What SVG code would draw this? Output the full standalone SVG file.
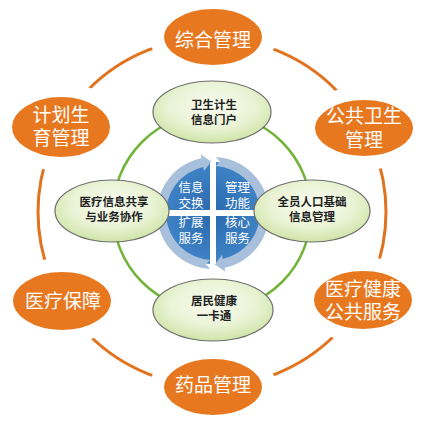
<svg xmlns="http://www.w3.org/2000/svg" width="424" height="424" viewBox="0 0 424 424">
<defs>
<radialGradient id="gG" cx="50%" cy="40%" r="60%">
<stop offset="0" stop-color="#F8FBEF"/>
<stop offset="0.6" stop-color="#EAF3D6"/>
<stop offset="1" stop-color="#CFE4A6"/>
</radialGradient>
<radialGradient id="bG" cx="50%" cy="50%" r="50%">
<stop offset="0" stop-color="#2A68AD"/>
<stop offset="1" stop-color="#3F84C6"/>
</radialGradient>
<path id="arr" d="M210.07,268.92 L205.83,264.0 L210.54,259.93 A47,47 0 0 1 203.23,167.03 L204.06,170.94 L211.2,161.53 L200.53,154.31 L201.36,158.22 A56,56 0 0 0 210.07,268.92 Z"/>
</defs>
<style>
.on{fill:#E8781F;stroke:#fff;stroke-width:14}
.ot{font-family:"Liberation Sans","Noto Sans CJK SC",sans-serif;font-size:19px;fill:#fff;text-anchor:middle}
.gn{fill:url(#gG);stroke:#6E6E6E;stroke-width:1.2}
.gt{font-family:"Liberation Sans","Noto Sans CJK SC",sans-serif;font-size:11.5px;font-weight:bold;fill:#222;text-anchor:middle}
.bt{font-family:"Liberation Sans","Noto Sans CJK SC",sans-serif;font-size:12.5px;fill:#fff;text-anchor:middle}
</style>
<rect width="424" height="424" fill="#fff"/>
<g id="connectors">
<circle cx="212" cy="212" r="174" fill="none" stroke="#E2731E" stroke-width="3"/>
<circle cx="212" cy="212" r="99" fill="none" stroke="#72B43A" stroke-width="2.5"/>
</g>
<g id="hub">
<circle cx="213" cy="213" r="51" fill="url(#bG)"/>
<rect x="210" y="150" width="6" height="126" fill="#fff"/>
<rect x="150" y="210" width="126" height="6" fill="#fff"/>
<use href="#arr" fill="#A9C0DC"/>
<use href="#arr" fill="#A9C0DC" transform="rotate(180 213 213)"/>
<text class="bt"><tspan x="191" y="192">信息</tspan><tspan x="191" y="207.5">交换</tspan></text>
<text class="bt"><tspan x="237.5" y="192">管理</tspan><tspan x="237.5" y="207.5">功能</tspan></text>
<text class="bt"><tspan x="191" y="227">扩展</tspan><tspan x="191" y="242.5">服务</tspan></text>
<text class="bt"><tspan x="237.5" y="227">核心</tspan><tspan x="237.5" y="242.5">服务</tspan></text>
</g>
<g id="n-zonghe"><ellipse class="on" cx="213" cy="37" rx="56" ry="35"/><text class="ot" x="213" y="47">综合管理</text></g>
<g id="n-jihua"><ellipse class="on" cx="61" cy="127" rx="56" ry="37"/><text class="ot"><tspan x="61" y="121.5">计划生</tspan><tspan x="61" y="145">育管理</tspan></text></g>
<g id="n-gonggong"><ellipse class="on" cx="364" cy="128" rx="56" ry="35"/><text class="ot"><tspan x="364" y="123">公共卫生</tspan><tspan x="364" y="146.5">管理</tspan></text></g>
<g id="n-baozhang"><ellipse class="on" cx="62" cy="301" rx="56" ry="36"/><text class="ot" x="63" y="308">医疗保障</text></g>
<g id="n-jiankang"><ellipse class="on" cx="363" cy="300" rx="56" ry="36"/><text class="ot"><tspan x="363" y="295.5">医疗健康</tspan><tspan x="363" y="319">公共服务</tspan></text></g>
<g id="n-yaopin"><ellipse class="on" cx="213" cy="387" rx="56" ry="35"/><text class="ot" x="213" y="392">药品管理</text></g>
<g id="g-menhu"><ellipse class="gn" cx="212" cy="112" rx="59" ry="31"/><text class="gt"><tspan x="214" y="109">卫生计生</tspan><tspan x="214" y="123.5">信息门户</tspan></text></g>
<g id="g-gongxiang"><ellipse class="gn" cx="112" cy="211" rx="57" ry="31"/><text class="gt"><tspan x="114" y="206">医疗信息共享</tspan><tspan x="114" y="221">与业务协作</tspan></text></g>
<g id="g-renkou"><ellipse class="gn" cx="312" cy="211" rx="58" ry="31"/><text class="gt"><tspan x="312" y="206">全员人口基础</tspan><tspan x="312" y="221">信息管理</tspan></text></g>
<g id="g-katong"><ellipse class="gn" cx="213" cy="310" rx="60" ry="31"/><text class="gt"><tspan x="214" y="305">居民健康</tspan><tspan x="214" y="320">一卡通</tspan></text></g>
</svg>
